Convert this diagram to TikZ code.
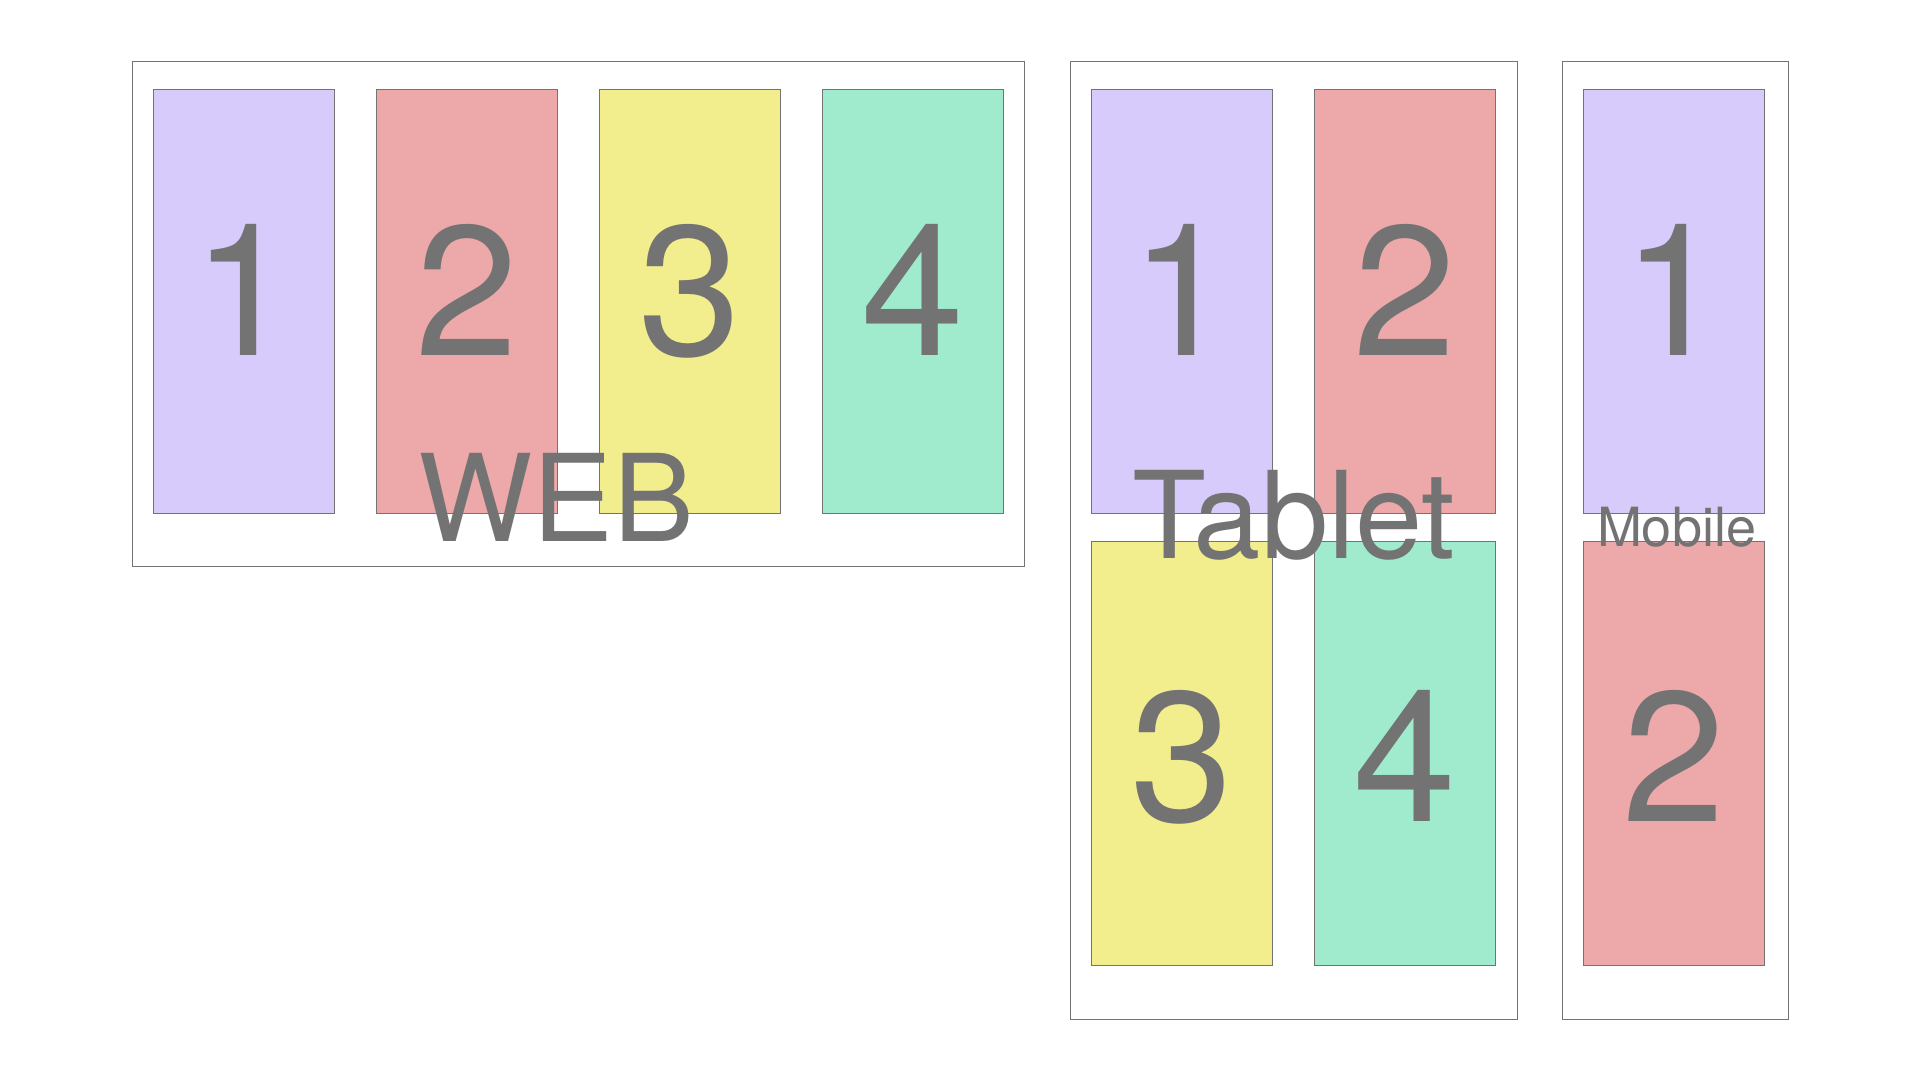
\documentclass[tikz,border=0pt]{standalone}
\usepackage{fontspec}
\setmainfont{TeX Gyre Heros}
\definecolor{inkgray}{HTML}{737373}
\definecolor{cpurple}{HTML}{D6CBFA}
\definecolor{cpink}{HTML}{EDA9AA}
\definecolor{cyellow}{HTML}{F2EE8E}
\definecolor{cgreen}{HTML}{A0EBCD}
\tikzset{
  frame/.style={draw=inkgray, line width=1pt, fill=white},
  colbox/.style={draw=inkgray, line width=0.9pt},
  digit/.style={text=inkgray, anchor=base, inner sep=0pt, font=\fontsize{185}{190}\selectfont},
  biglabel/.style={text=inkgray, anchor=base, inner sep=0pt, font=\fontsize{121}{125}\selectfont},
  smalllabel/.style={text=inkgray, anchor=base, inner sep=0pt, font=\fontsize{54}{58}\selectfont},
}
\begin{document}
\begin{tikzpicture}[x=1pt,y=-1pt]
\useasboundingbox (0,0) rectangle (1920,1080);
% frames
\draw[frame] (132.3,61) rectangle (1024,566.3);
\draw[frame] (1070.3,61) rectangle (1517.7,1019.3);
\draw[frame] (1562.3,61) rectangle (1788.3,1019.3);
% web columns
\draw[colbox, fill=cpurple] (153.3,89) rectangle (334.5,513.3);
\draw[colbox, fill=cpink]   (376.3,89) rectangle (557.5,513.3);
\draw[colbox, fill=cyellow] (599.3,89) rectangle (780.5,513.3);
\draw[colbox, fill=cgreen]  (822.3,89) rectangle (1003.5,513.3);
% tablet columns
\draw[colbox, fill=cpurple] (1091.3,89) rectangle (1272.3,513.3);
\draw[colbox, fill=cpink]   (1314.7,89) rectangle (1495.7,513.3);
\draw[colbox, fill=cyellow] (1091.3,541.3) rectangle (1272.3,965);
\draw[colbox, fill=cgreen]  (1314.7,541.3) rectangle (1495.7,965);
% mobile columns
\draw[colbox, fill=cpurple] (1583.3,89) rectangle (1764.7,513.3);
\draw[colbox, fill=cpink]   (1583.3,541.3) rectangle (1764.7,965);
% digits
\node[digit] (w1) at (243.9,355.7) {1};
\node[digit] (w2) at (466.9,355.7) {2};
\node[digit] (w3) at (689.9,355.7) {3};
\node[digit] (w4) at (912.9,355.7) {4};
\node[digit] (t1) at (1181.8,355.7) {1};
\node[digit] (t2) at (1405.2,355.7) {2};
\node[digit] (t3) at (1181.8,821.7) {3};
\node[digit] (t4) at (1405.2,821.7) {4};
\node[digit] (m1) at (1674,355.7) {1};
\node[digit] (m2) at (1674,821.7) {2};
% labels
\node[biglabel] (web) at (556.5,541) {WEB};
\node[biglabel] (tablet) at (1293.5,558.3) {Tablet};
\node[smalllabel] (mobile) at (1676.5,546) {Mobile};
\end{tikzpicture}
\end{document}
